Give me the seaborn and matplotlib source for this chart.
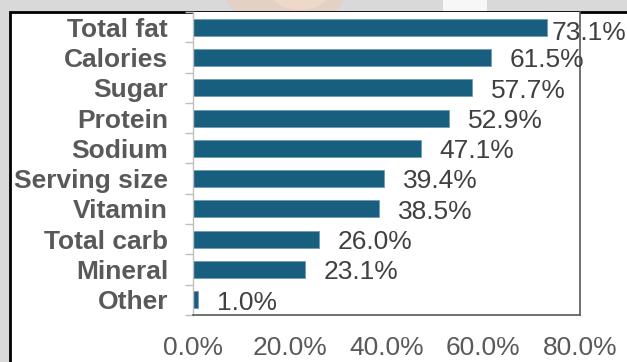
import matplotlib
matplotlib.use("Agg")
import matplotlib.pyplot as plt
from matplotlib.patches import Rectangle, Ellipse
import numpy as np
import pandas as pd
import seaborn as sns

categories = ["Total fat", "Calories", "Sugar", "Protein", "Sodium",
              "Serving size", "Vitamin", "Total carb", "Mineral", "Other"]
shares = [73.1, 61.5, 57.7, 52.9, 47.1, 39.4, 38.5, 26.0, 23.1, 1.0]
x_ticks = [0, 20, 40, 60, 80]
x_tick_labels = ["0.0%", "20.0%", "40.0%", "60.0%", "80.0%"]

plt.rcParams["font.family"] = ["Liberation Sans", "DejaVu Sans"]

W, H = 627, 362
FS = 19
fig = plt.figure(figsize=(W / 100, H / 100), dpi=100, facecolor="#d9d9d9")

# slide backdrop behind the chart frame
fig.patches.append(Ellipse((285 / W, 1 + 8 / H), 120 / W, 70 / H,
                           transform=fig.transFigure, facecolor="#f3c6aa",
                           edgecolor="none", alpha=0.4, zorder=-3))
fig.patches.append(Ellipse((300 / W, 1 + 10 / H), 60 / W, 40 / H,
                           transform=fig.transFigure, facecolor="#f6dccb",
                           edgecolor="none", alpha=0.7, zorder=-3))
fig.patches.append(Rectangle((443 / W, 1 - 12 / H), 44 / W, 12 / H,
                             transform=fig.transFigure, facecolor="#f7f7f7",
                             edgecolor="none", zorder=-3))

# white chart area with black frame
fig.patches.append(Rectangle((10 / W, -0.05), 1.0, (1 - 12 / H) + 0.05,
                             transform=fig.transFigure, facecolor="white",
                             edgecolor="black", linewidth=2, zorder=-2))

ax = fig.add_axes([193 / W, 1 - 315 / H, (580 - 193) / W, (315 - 12) / H])
ax.set_facecolor("white")

df = pd.DataFrame({"category": categories, "share": shares})
sns.barplot(data=df, y="category", x="share", orient="h", color="#175e7f",
            saturation=1, width=0.56, edgecolor="#6f9db5", linewidth=0.6,
            ax=ax)

ax.set_xlim(0, 80)
ax.set_ylim(9.5, -0.5)
ax.set_xlabel("")
ax.set_ylabel("")

ax.set_xticks(x_ticks)
ax.set_xticklabels(x_tick_labels)
ax.tick_params(axis="x", length=0, pad=15, labelsize=FS, labelcolor="#595959")

ax.tick_params(axis="y", which="major", length=0, pad=18, labelsize=FS,
               labelcolor="#595959")
for lab in ax.get_yticklabels():
    lab.set_fontweight("bold")
ax.set_yticks(np.arange(-0.5, len(categories), 1), minor=True)
ax.tick_params(axis="y", which="minor", length=5.8, width=1, color="#bfbfbf")

ax.spines["left"].set_color("#bfbfbf")
ax.spines["left"].set_linewidth(1)
ax.spines["bottom"].set_color("#595959")
ax.spines["bottom"].set_linewidth(1.2)
ax.spines["right"].set_color("#595959")
ax.spines["right"].set_linewidth(1.2)
ax.spines["top"].set_visible(False)

# value labels beside each bar
for i, v in enumerate(shares):
    dx = 3.6 if i == 0 else 13.7
    dy = -4 if i == 0 else -2
    ax.annotate(f"{v:.1f}%", xy=(v, i), xytext=(dx, dy),
                textcoords="offset points", ha="left", va="center",
                fontsize=FS, color="#404040", annotation_clip=False)

fig.savefig("out.png", dpi=100, facecolor=fig.get_facecolor())
